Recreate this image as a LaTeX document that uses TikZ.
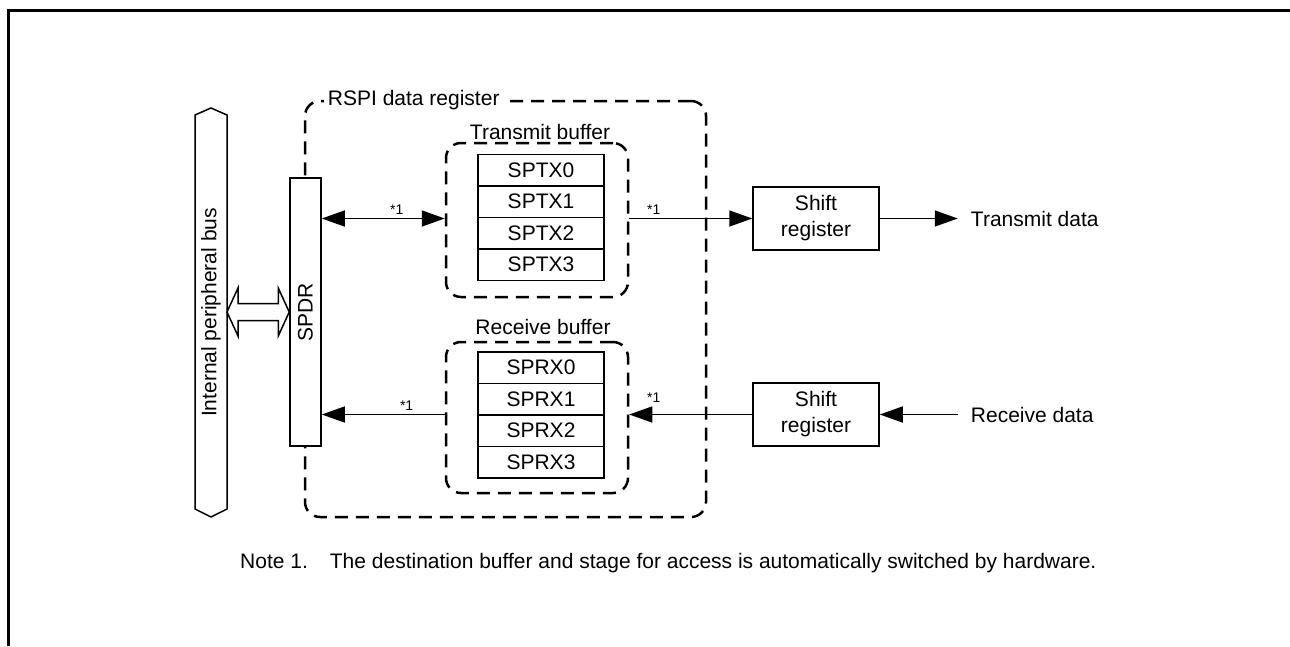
\documentclass[tikz,border=0pt]{standalone}
\usepackage{fontspec}
\setmainfont{Liberation Sans}
\usetikzlibrary{positioning, arrows.meta, calc}

\begin{document}
\begin{tikzpicture}[
  x=1pt, y=-1pt,
  font=\fontsize{21}{26}\selectfont,
  node distance=0pt,
  % block styles
  reg/.style={draw, line width=1.5pt, fill=white, minimum width=126pt, minimum height=31.5pt, inner sep=0pt, outer sep=0pt},
  shiftbox/.style={draw, line width=1.5pt, fill=white, minimum width=126pt, minimum height=63pt, align=center, inner sep=0pt},
  dashbox/.style={draw, line width=2.5pt, dash pattern=on 13pt off 8pt, rounded corners=15pt, inner sep=0pt},
  boxlabel/.style={fill=white, inner xsep=4pt, inner ysep=1pt},
  % arrow styles
  line/.style={draw, -{Triangle[length=23pt, width=16pt]}, line width=1.5pt},
  both/.style={draw, {Triangle[length=23pt, width=16pt]}-{Triangle[length=23pt, width=16pt]}, line width=1.5pt},
  markone/.style={font=\fontsize{14}{16}\selectfont, above, inner sep=3pt}
]

  \useasboundingbox (0,0) rectangle (1290,646);
  \draw[line width=3pt] (8.8,646) -- (8.8,10.5) -- (1290,10.5);

  % ==========================================
  % RSPI DATA REGISTER AND BUS
  % ==========================================
  \node[dashbox, minimum width=401pt, minimum height=416pt] (rspi) at (505.5,309) {};
  \node[boxlabel, anchor=west] (rspilbl) at ([xshift=20pt]rspi.north west) {RSPI data register};

  \draw[line width=1.5pt, fill=white] (211,108) -- (227,115) -- (227,509) -- (211,517) -- (195,509) -- (195,115) -- cycle;
  \node (bus) at (211,312.5) {\rotatebox{90}{Internal peripheral bus}};
  \coordinate (busE) at (227,312);

  \node[draw, line width=1.5pt, fill=white, minimum width=31pt, minimum height=268pt, inner sep=0pt] (spdr) at (305.5,312) {\rotatebox{90}{SPDR}};

  \draw[line width=1.5pt, fill=white] (busE) -- ($(busE)+(11,-24)$) -- ($(busE)+(11,-8.5)$)
    -- ($(spdr.west)+(-11,-8.5)$) -- ($(spdr.west)+(-11,-24)$) -- (spdr.west)
    -- ($(spdr.west)+(-11,24)$) -- ($(spdr.west)+(-11,8.5)$) -- ($(busE)+(11,8.5)$)
    -- ($(busE)+(11,24)$) -- cycle;

  % ==========================================
  % BUFFERS
  % ==========================================
  \node[dashbox, minimum width=182pt, minimum height=154pt] (txbuf) at (537,220) {};
  \node[boxlabel] (txlbl) at ([xshift=3pt, yshift=10pt]txbuf.north) {Transmit buffer};
  \node[reg] (tx0) at (541,170) {SPTX0};
  \node[reg, below=of tx0] (tx1) {SPTX1};
  \node[reg, below=of tx1] (tx2) {SPTX2};
  \node[reg, below=of tx2] (tx3) {SPTX3};

  \node[dashbox, minimum width=182pt, minimum height=151pt] (rxbuf) at (537,417.5) {};
  \node[boxlabel] (rxlbl) at ([xshift=6pt, yshift=14pt]rxbuf.north) {Receive buffer};
  \node[reg] (rx0) at (541,367.5) {SPRX0};
  \node[reg, below=of rx0] (rx1) {SPRX1};
  \node[reg, below=of rx1] (rx2) {SPRX2};
  \node[reg, below=of rx2] (rx3) {SPRX3};

  % ==========================================
  % SHIFT REGISTERS AND DATA LINES
  % ==========================================
  \node[shiftbox] (shtx) at (816,218.5) {Shift\\register};
  \node[shiftbox] (shrx) at (816,414.5) {Shift\\register};
  \node[right=78pt of shtx, inner xsep=13pt] (txdata) {Transmit data};
  \node[right=78pt of shrx, inner xsep=13pt] (rxdata) {Receive data};

  \draw[both] (spdr.east |- shtx.west) -- node[markone, pos=0.61] {*1} (txbuf.west |- shtx.west);
  \draw[line] (txbuf.east |- shtx.west) -- node[markone, pos=0.2] {*1} (shtx.west);
  \draw[line] (shtx.east) -- (txdata);

  \draw[line] (rxdata) -- (shrx.east);
  \draw[line] (shrx.west) -- node[markone, pos=0.8, yshift=8pt] {*1} (rxbuf.east |- shrx.west);
  \draw[line] (rxbuf.west |- shrx.west) -- node[markone, pos=0.31] {*1} (spdr.east |- shrx.west);

  % note
  \node[anchor=west, inner sep=0pt] (note) at (240,563) {Note 1.\hspace{22pt}The destination buffer and stage for access is automatically switched by hardware.};

\end{tikzpicture}
\end{document}
